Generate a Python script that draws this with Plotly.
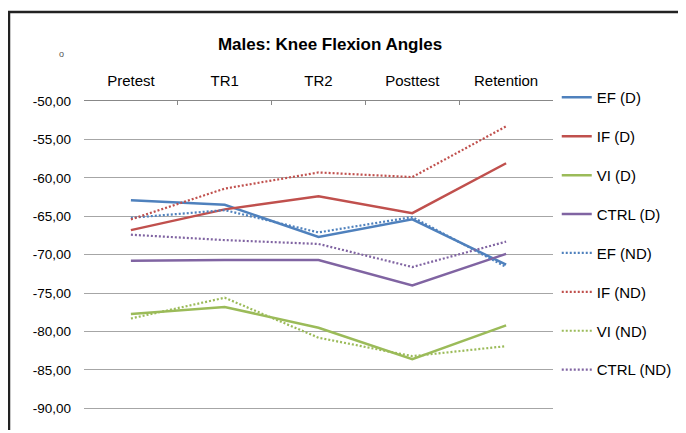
import plotly.graph_objects as go

categories = ["Pretest", "TR1", "TR2", "Posttest", "Retention"]
ef_d = [-62.9, -63.5, -67.7, -65.4, -71.3]
if_d = [-66.8, -64.1, -62.4, -64.6, -58.1]
vi_d = [-77.7, -76.8, -79.5, -83.6, -79.2]
ctrl_d = [-70.8, -70.7, -70.7, -74.0, -69.9]
ef_nd = [-65.2, -64.2, -67.1, -65.1, -71.6]
if_nd = [-65.4, -61.4, -59.3, -59.9, -53.3]
vi_nd = [-78.3, -75.6, -80.8, -83.2, -81.9]
ctrl_nd = [-67.4, -68.1, -68.6, -71.6, -68.3]
y_ticks = [-50, -55, -60, -65, -70, -75, -80, -85, -90]
y_tick_labels = ["-50,00", "-55,00", "-60,00", "-65,00", "-70,00", "-75,00", "-80,00", "-85,00", "-90,00"]

BLUE = "#4F81BD"
RED = "#C0504D"
GREEN = "#9BBB59"
PURPLE = "#8064A2"

series = [
    ("EF (D)", ef_d, BLUE, "solid"),
    ("IF (D)", if_d, RED, "solid"),
    ("VI (D)", vi_d, GREEN, "solid"),
    ("CTRL (D)", ctrl_d, PURPLE, "solid"),
    ("EF (ND)", ef_nd, BLUE, "2px,2px"),
    ("IF (ND)", if_nd, RED, "2px,2px"),
    ("VI (ND)", vi_nd, GREEN, "2px,2px"),
    ("CTRL (ND)", ctrl_nd, PURPLE, "2px,2px"),
]

fig = go.Figure()
for i, (name, vals, color, dash) in enumerate(series):
    fig.add_trace(go.Scatter(
        x=categories, y=vals, mode="lines", name=name,
        legendgroup=f"g{i}",
        line=dict(color=color, width=2.5 if dash == "solid" else 2.2, dash=dash),
    ))

FONT = "Liberation Sans, Arial, sans-serif"
W, H = 678, 425          # page body has an 8px margin
PL, PR, PT = 76, 545, 93  # plot area in figure pixels
PW, PH = PR - PL, H - PT

fig.update_layout(
    width=W, height=H,
    margin=dict(l=PL, r=W - PR, t=PT, b=0, pad=0, autoexpand=False),
    paper_bgcolor="white", plot_bgcolor="white",
    font=dict(family=FONT, size=15, color="#000000"),
    showlegend=True,
    legend=dict(
        x=1.008, y=1.06, xanchor="left", yanchor="top",
        font=dict(family=FONT, size=15, color="#000000"),
        tracegroupgap=16.4, itemwidth=30, maxheight=400,
        bgcolor="rgba(0,0,0,0)",
    ),
    xaxis=dict(
        type="category", side="top", range=[-0.5, 4.5],
        showline=True, linecolor="#888888", linewidth=1,
        showgrid=False, tickson="boundaries", ticks="inside",
        ticklen=4, tickcolor="#888888",
        tickfont=dict(family=FONT, size=15, color="#000000"),
        ticklabelstandoff=8, zeroline=False, automargin=False,
    ),
    yaxis=dict(
        range=[-93.2, -50], tickvals=y_ticks, ticktext=y_tick_labels,
        showgrid=True, gridcolor="#A6A6A6", gridwidth=1,
        showline=False, zeroline=False, ticks="",
        tickfont=dict(family=FONT, size=13.5, color="#000000"),
        ticklabelstandoff=12, automargin=False,
    ),
    title=dict(
        text="<b>Males: Knee Flexion Angles</b>",
        x=322 / W, xanchor="center", y=1 - 36 / H, yanchor="middle",
        font=dict(family=FONT, size=17, color="#000000"),
    ),
    shapes=[
        dict(type="line", xref="paper", yref="paper",
             x0=(0 - PL) / PW, x1=(W - PL) / PW, y0=(H - 4) / PH, y1=(H - 4) / PH,
             line=dict(color="#222222", width=2.5)),
        dict(type="line", xref="paper", yref="paper",
             x0=(1 - PL) / PW, x1=(1 - PL) / PW, y0=3 / PH, y1=(H - 3) / PH,
             line=dict(color="#222222", width=2.5)),
    ],
    annotations=[
        dict(text="o", xref="paper", yref="paper",
             x=(49 - PL) / PW, y=(H - 39) / PH, showarrow=False,
             font=dict(family=FONT, size=9, color="#555555")),
    ],
)

fig.write_html("out.html")
